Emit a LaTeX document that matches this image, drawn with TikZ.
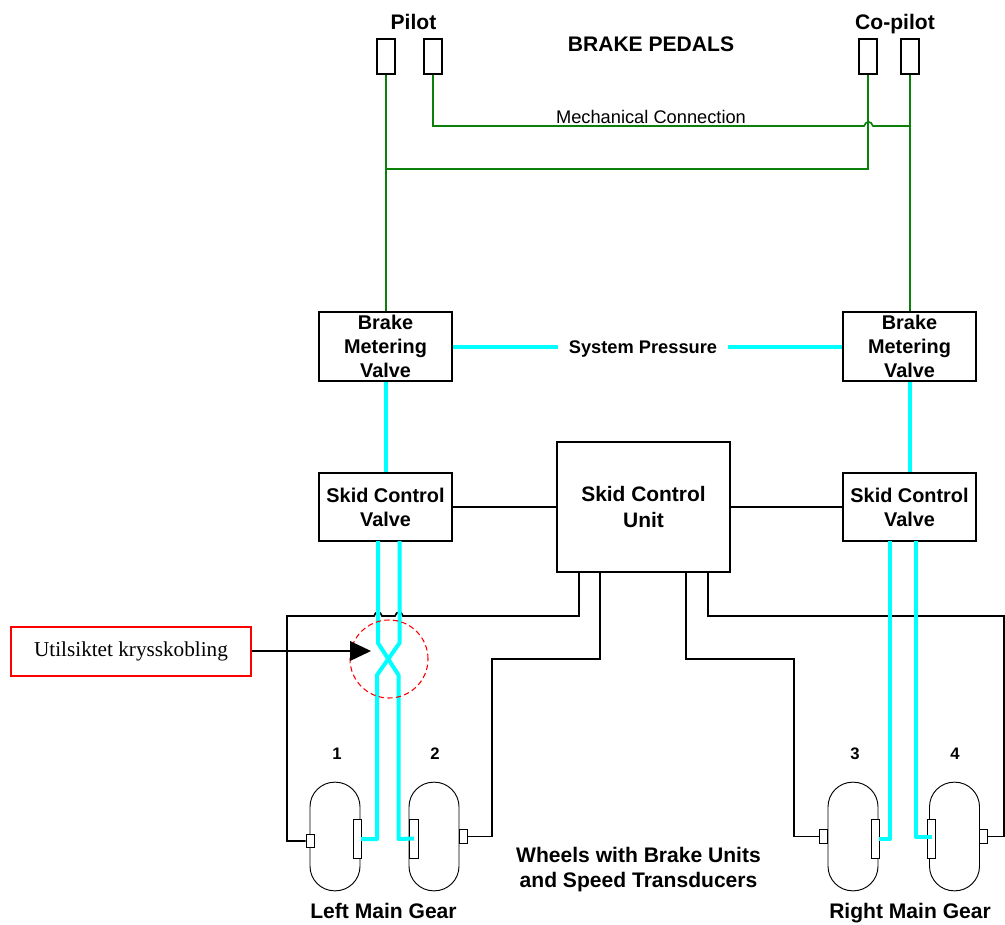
\documentclass[tikz,border=0pt]{standalone}
\usepackage{fontspec}
\setmainfont{Liberation Sans}
\newfontfamily\serifface{Liberation Serif}
\definecolor{lgreen}{RGB}{10,128,10}
\definecolor{lcyan}{RGB}{0,255,255}
\tikzset{
  x=0.75pt,y=-0.75pt,
  blk/.style={line width=1.25pt,black,line join=miter},
  grn/.style={line width=1.25pt,lgreen},
  cyn/.style={line width=3pt,lcyan,line join=round},
  box/.style={draw=black,line width=1.25pt,fill=white,inner sep=0pt,align=center,font=\fontsize{14.9}{18}\selectfont\bfseries},
  pedal/.style={draw=black,line width=1.25pt,fill=white,inner sep=0pt,minimum width=13.5pt,minimum height=26.5pt},
  wheel/.style={draw=black,line width=0.7pt,fill=white,inner sep=0pt,minimum width=37.5pt,minimum height=81.5pt,rounded corners=18.5pt},
  brk/.style={draw=black,line width=0.7pt,fill=white,inner sep=0pt,minimum width=6.2pt,minimum height=29.3pt},
  trans/.style={draw=black,line width=0.7pt,fill=white,inner sep=0pt,minimum width=6.6pt,minimum height=10pt},
  lab/.style={inner sep=0pt,align=center,anchor=base,font=\fontsize{15.8}{18.75}\selectfont\bfseries},
  num/.style={inner sep=0pt,anchor=base,font=\fontsize{12.5}{14}\selectfont\bfseries},
}
\begin{document}
\begin{tikzpicture}
\useasboundingbox (0,0) rectangle (1005,924);
% pedals
\node[pedal] (p1) at (386,56.5) {};
\node[pedal] (p2) at (433,56.5) {};
\node[pedal] (c1) at (868,56.5) {};
\node[pedal] (c2) at (910,56.5) {};
% boxes
\node[box,minimum width=99.75pt,minimum height=52pt] (bl) at (385.5,346.5) {Brake\\Metering\\Valve};
\node[box,minimum width=99.75pt,minimum height=52pt] (br) at (909.5,346.5) {Brake\\Metering\\Valve};
\node[box,minimum width=99.75pt,minimum height=51pt] (sl) at (385.5,507) {Skid Control\\Valve};
\node[box,minimum width=99.75pt,minimum height=51pt] (sr) at (909.5,507) {Skid Control\\Valve};
\node[box,font=\fontsize{15.7}{19.5}\selectfont\bfseries,minimum width=129.75pt,minimum height=97.5pt] (scu) at (643.5,507) {Skid Control\\Unit};
% wheels
\node[wheel] (w1) at (335,836.5) {};
\node[wheel] (w2) at (434,836.5) {};
\node[wheel] (w3) at (853,836.5) {};
\node[wheel] (w4) at (954.5,836.5) {};
\node[brk] (b1) at (357.8,838.5) {};
\node[brk] (b2) at (414,838.5) {};
\node[brk] (b3) at (875.5,838.5) {};
\node[brk] (b4) at (931.5,838.5) {};
\node[trans] (t1) at (310.5,841) {};
\node[trans] (t2) at (463.5,836.5) {};
\node[trans] (t3) at (823.5,836.5) {};
\node[trans] (t4) at (983.5,836.5) {};
% routing coordinates
\coordinate (hopA) at (864,126);
\coordinate (hopB) at (873,126);
\coordinate (mechL) at (433,126);
\coordinate (mechR) at (910,126);
\coordinate (crossL) at (386,169);
\coordinate (crossR) at (868,169);
% green
\draw[grn] (p1.south) -- (bl.north -| p1.south);
\draw[grn] (c2.south) -- (br.north -| c2.south);
\draw[grn] (p2.south) -- (mechL) -- (hopA) .. controls (866,120.5) and (871,120.5) .. (hopB) -- (mechR);
\draw[grn] (c1.south) -- (crossR) -- (crossL);
% black: valve to unit
\draw[blk] (sl.east) -- (sl.east -| scu.west);
\draw[blk] (scu.east) -- (scu.east -| sr.west);
% black: unit to transducers
\coordinate (u1) at (579,572); \coordinate (u2) at (600,572);
\coordinate (u3) at (686,572); \coordinate (u4) at (708,572);
\coordinate (h1) at (374,616); \coordinate (h2) at (382,616);
\coordinate (h3) at (395,616); \coordinate (h4) at (403,616);
\draw[blk] (u1) -- (579,616) -- (h4) .. controls (402,611) and (396,611) .. (h3) -- (h2) .. controls (381,611) and (375,611) .. (h1) -- (287,616) -- (287,841) -- (t1.west);
\draw[blk] (u2) -- (600,659) -- (492,659) -- (492,836.5) -- (t2.east);
\draw[blk] (u3) -- (686,659) -- (794,659) -- (794,836.5) -- (t3.west);
\draw[blk] (u4) -- (708,616) -- (1004,616) -- (1004,836.5) -- (t4.east);
% cyan
\node[inner sep=0pt,font=\fontsize{13.7}{16}\selectfont\bfseries] (sp) at (643,349) {System Pressure};
\draw[cyn] (bl.east |- 0,347) -- (558,347);
\draw[cyn] (728,347) -- (br.west |- 0,347);
\draw[cyn] (bl.south) -- (sl.north);
\draw[cyn] (br.south) -- (sr.north);
\draw[cyn] (378,541) -- (378,643) -- (398.5,675) -- (398.5,839) -- (b2.center);
\draw[cyn] (399.5,541) -- (399.5,643) -- (377,675) -- (377,839) -- (361,839);
\draw[cyn] (890,541) -- (890,839) -- (879,839);
\draw[cyn] (916,541) -- (916,837) -- (932,837);
% annotation
\node[draw=red,line width=0.8pt,fill=white,inner sep=0pt,minimum width=180pt,minimum height=36.75pt,font=\fontsize{15.9}{18}\selectfont\serifface] (note) at (131,651.5) {Utilsiktet krysskobling};
\node[draw=red,dashed,dash pattern=on 4pt off 2.5pt,line width=0.8pt,circle,inner sep=0pt,minimum size=58.5pt] (ring) at (389,659) {};
\coordinate (tip) at (371,651);
\draw[blk] (note.east |- tip) -- (352,651);
\fill[black] (tip) -- (350,641) -- (350,661) -- cycle;
% labels
\node[lab] (tp) at (413.5,30) {Pilot};
\node[lab] (tc) at (895,30) {Co-pilot};
\node[lab] (tb) at (651,51) {BRAKE PEDALS};
\node[inner sep=0pt,font=\fontsize{13.7}{16}\selectfont] (tm) at (651,116.5) {Mechanical Connection};
\node[num] (n1) at (337,759) {1};
\node[num] (n2) at (435,759) {2};
\node[num] (n3) at (855,759) {3};
\node[num] (n4) at (955,759) {4};
\node[lab,anchor=center] (tw) at (638.5,870) {Wheels with Brake Units\\and Speed Transducers};
\node[lab] (tl) at (383.5,918) {Left Main Gear};
\node[lab] (tr) at (910,918) {Right Main Gear};
\end{tikzpicture}
\end{document}
